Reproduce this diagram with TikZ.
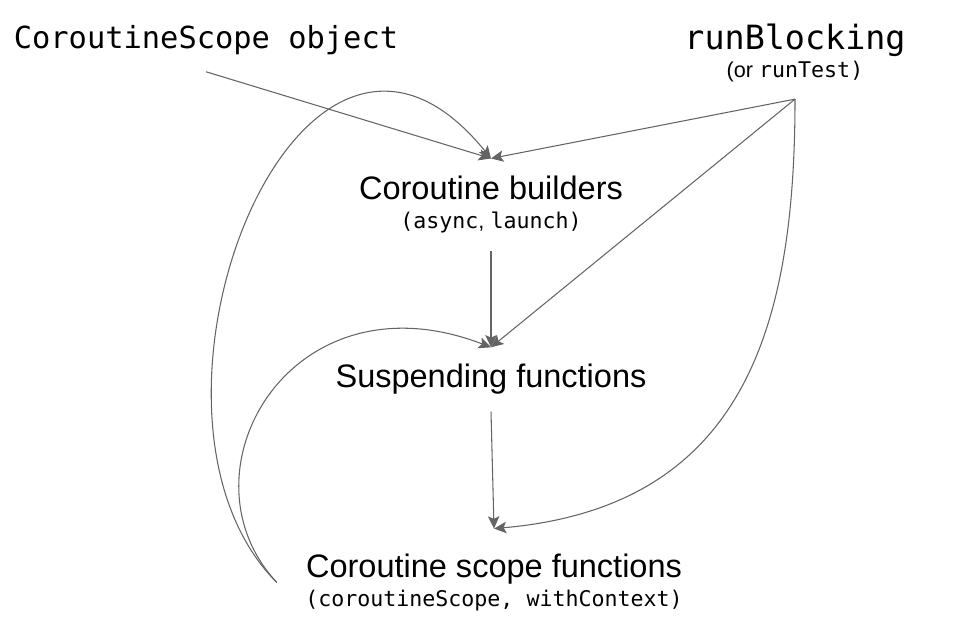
\documentclass[tikz,border=0pt]{standalone}
\usepackage{fontspec}
\setmainfont{Liberation Sans}
\setmonofont{DejaVu Sans Mono}
\usetikzlibrary{arrows.meta}
\definecolor{LinkGray}{RGB}{100,100,100}
\newcommand{\codesub}[1]{{\fontsize{12.3}{14}\selectfont\ttfamily #1}}
\newcommand{\textsub}[1]{{\fontsize{12.3}{14}\selectfont\rmfamily #1}}
\tikzset{
  topic/.style={align=center, inner sep=9.5pt, font=\fontsize{18.5}{17}\selectfont},
  entry/.style={align=center, inner sep=9.5pt, font=\fontsize{17.3}{16}\selectfont\ttfamily},
  link/.style={-{Stealth[length=7pt, width=6.5pt, inset=1.5pt]}, draw=LinkGray, line width=0.6pt}
}

\begin{document}
\begin{tikzpicture}
  \useasboundingbox (0,0) rectangle (19.38,-12.5);
  \node[entry] (scopeobj) at (4.12,-0.80) {CoroutineScope object};
  \node[entry, font=\fontsize{19}{16}\selectfont\ttfamily] (runblocking) at (15.9,-1.06) {runBlocking\\\textsub{(or }\codesub{runTest)}};
  \node[topic] (builders) at (9.82,-4.09) {Coroutine builders\\\codesub{(async}\textsub{, }\codesub{launch)}};
  \node[topic] (suspending) at (9.82,-7.59) {Suspending functions};
  \node[topic, inner xsep=16pt, inner ysep=14pt] (scopefns) at (9.88,-11.65) {Coroutine scope functions\\\codesub{(coroutineScope, withContext)}};

  % straight links
  \draw[link] (scopeobj.south) -- (builders.north);
  \draw[link] (runblocking.south) -- (builders.north);
  \draw[link] (runblocking.south) -- (suspending.north);
  \draw[link] (builders.south) -- (suspending.north);
  \draw[link] (suspending.south) -- (scopefns.north);
  % curved links
  \draw[link] (runblocking.south) to[out=-90, in=5, out distance=4.6cm, in distance=5cm] (scopefns.north);
  \draw[link] (scopefns.west) to[out=135, in=129, out distance=4.8cm, in distance=6.1cm] (builders.north);
  \draw[link] (scopefns.west) to[out=133, in=159, out distance=3cm, in distance=4.3cm] (suspending.north);
\end{tikzpicture}
\end{document}
